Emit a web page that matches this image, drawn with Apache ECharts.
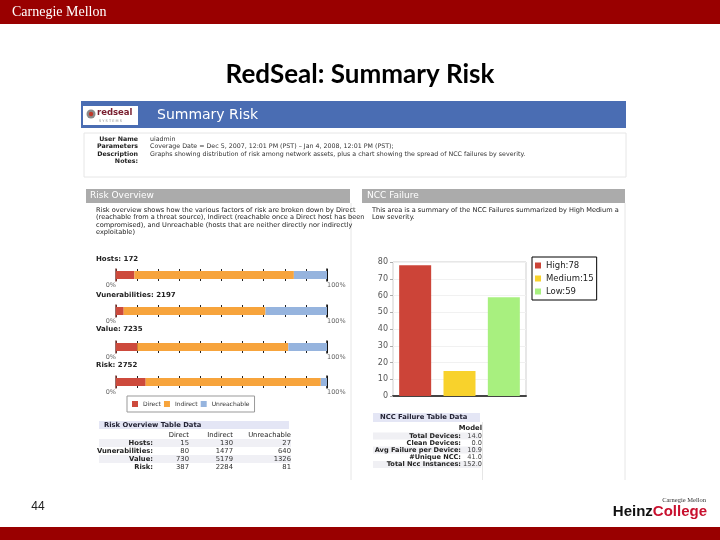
<!DOCTYPE html>
<html><head><meta charset="utf-8">
<script src="https://cdn.jsdelivr.net/npm/echarts@6/dist/echarts.min.js"></script>
<style>html,body{margin:0;padding:0;background:#fff}#c{width:720px;height:540px}</style>
</head><body><div id="c"></div>
<script>
// ---------------- data ----------------
const riskCategories = ['Hosts', 'Vunerabilities', 'Value', 'Risk'];
const riskSeriesNames = ['Direct', 'Indirect', 'Unreachable'];
const directVals = [15, 80, 730, 387];
const indirectVals = [130, 1477, 5179, 2284];
const unreachableVals = [27, 640, 1326, 81];
const riskTickLabels = ['0%', '100%'];
const nccCategories = ['High', 'Medium', 'Low'];
const nccValues = [78, 15, 59];
const nccYTicks = [0, 80, 10]; // min, max, interval
const nccTableLabels = ['Total Devices:', 'Clean Devices:', 'Avg Failure per Device:', '#Unique NCC:', 'Total Ncc Instances:'];
const nccTableValues = ['14.0', '0.0', '10.9', '41.0', '152.0'];
const riskTableCols = ['Direct', 'Indirect', 'Unreachable'];
const infoLabels = ['User Name', 'Parameters', 'Description', 'Notes:'];
const infoValues = ['uiadmin',
  'Coverage Date = Dec 5, 2007, 12:01 PM (PST) \u2013 Jan 4, 2008, 12:01 PM (PST);',
  'Graphs showing distribution of risk among network assets, plus a chart showing the spread of NCC failures by severity.',
  ''];
const riskDescLines = [
  'Risk overview shows how the various factors of risk are broken down by Direct',
  '(reachable from a threat source), Indirect (reachable once a Direct host has been',
  'compromised), and Unreachable (hosts that are neither directly nor indirectly',
  'exploitable)'];
const nccDescLines = [
  'This area is a summary of the NCC Failures summarized by High Medium a',
  'Low severity.'];

// ---------------- styles / layout ----------------
const riskColors = ['#cd4a3c', '#f7a43c', '#96b4de'];
const nccColors = ['#cc4438', '#f8d22c', '#a8f07f'];
const SF = 'DejaVu Sans';
const riskRowsY = [275, 311, 347, 382];
const riskLabelY = [259, 295, 329, 365];

const riskValues = [directVals, indirectVals, unreachableVals];
const totals = riskCategories.map((_, i) => directVals[i] + indirectVals[i] + unreachableVals[i]);

const grid = [], xAxis = [], yAxis = [], series = [];
riskRowsY.forEach((cy, i) => {
  grid.push({ left: 116, top: cy - 6, width: 211, height: 12 });
  xAxis.push({
    gridIndex: i, type: 'value', min: 0, max: 100, interval: 10,
    axisLine: { show: false }, axisTick: { show: false },
    splitLine: { show: true, lineStyle: { color: '#222', width: 1 } },
    axisLabel: {
      fontSize: 6.5, fontFamily: SF, color: '#666', margin: 1,
      showMinLabel: true, showMaxLabel: true,
      alignMinLabel: 'right', alignMaxLabel: 'left',
      formatter: v => v === 0 ? riskTickLabels[0] : (v === 100 ? riskTickLabels[1] : '')
    }
  });
  yAxis.push({
    gridIndex: i, type: 'category', data: [riskCategories[i]],
    axisLine: { show: true, onZero: false, lineStyle: { color: '#7a3a35', width: 1.5 } },
    axisTick: { show: false }, axisLabel: { show: false }, splitLine: { show: false }
  });
  yAxis.push({
    gridIndex: i, type: 'category', position: 'right', data: [riskCategories[i]],
    axisLine: { show: true, onZero: false, lineStyle: { color: '#111', width: 1.5 } },
    axisTick: { show: false }, axisLabel: { show: false }, splitLine: { show: false }
  });
  riskSeriesNames.forEach((name, j) => {
    series.push({
      type: 'bar', name, xAxisIndex: i, yAxisIndex: 2 * i, stack: 'r' + i,
      barWidth: 8, silent: true,
      itemStyle: { color: riskColors[j] },
      data: [riskValues[j][i] / totals[i] * 100]
    });
  });
});

// NCC chart
const nccGridIndex = riskRowsY.length;
grid.push({ left: 393, top: 262, width: 133, height: 134, show: true, borderColor: '#cfcfcf', borderWidth: 1, backgroundColor: '#fff' });
xAxis.push({
  gridIndex: nccGridIndex, type: 'category', data: nccCategories,
  axisLine: { show: true, lineStyle: { color: '#444', width: 2 } },
  axisTick: { show: false }, axisLabel: { show: false }
});
yAxis.push({
  gridIndex: nccGridIndex, type: 'value', min: nccYTicks[0], max: nccYTicks[1], interval: nccYTicks[2],
  axisLine: { show: false },
  axisTick: { show: true, length: 3, lineStyle: { color: '#aaa' } },
  axisLabel: { fontSize: 8, fontFamily: SF, color: '#555', margin: 5 },
  splitLine: { show: true, lineStyle: { color: '#f1f1f1' } }
});
const nccNames = nccCategories.map((c, k) => c + ':' + nccValues[k]);
nccCategories.forEach((c, k) => {
  series.push({
    type: 'bar', name: nccNames[k], xAxisIndex: nccGridIndex, yAxisIndex: yAxis.length - 1,
    barWidth: 32, barGap: '-100%', silent: true,
    itemStyle: { color: nccColors[k] },
    data: nccCategories.map((_, m) => m === k ? nccValues[k] : '-')
  });
});

// ---------------- graphics (slide + report text) ----------------
const g = [];
const txt = (x, y, text, o = {}) => g.push({
  type: 'text', x, y, silent: true,
  style: Object.assign({
    text, fill: o.fill || '#333', fontSize: o.size || 6.5, fontFamily: o.family || SF,
    fontWeight: o.bold ? 'bold' : 'normal',
    textAlign: o.align || 'left', align: o.align || 'left',
    textVerticalAlign: 'middle', verticalAlign: 'middle'
  }, o.extra || {})
});
const rect = (x, y, w, h, fill, stroke) => g.push({
  type: 'rect', silent: true, shape: { x, y, width: w, height: h },
  style: { fill: fill || 'none', stroke: stroke || 'none', lineWidth: 1 }
});
const line = (x1, y1, x2, y2, color) => g.push({
  type: 'line', silent: true, shape: { x1, y1, x2, y2 }, style: { stroke: color, lineWidth: 1 }
});

// slide frame
rect(0, 0, 720, 24, '#990000');
txt(12, 12, 'Carnegie Mellon', { fill: '#fff', size: 14, family: 'Liberation Serif' });
txt(360, 75, 'RedSeal: Summary Risk', { fill: '#000', size: 26, family: 'Lato', bold: true, align: 'center' });
rect(0, 527, 720, 13, '#990000');
txt(38, 507, '44', { fill: '#222', size: 12, family: 'Liberation Sans', align: 'center' });
txt(706, 500, 'Carnegie Mellon', { fill: '#333', size: 6.5, family: 'Liberation Serif', align: 'right' });
g.push({
  type: 'text', x: 707, y: 512, silent: true,
  style: {
    text: '{a|Heinz}{b|College}', textAlign: 'right', align: 'right', textVerticalAlign: 'middle', verticalAlign: 'middle',
    rich: {
      a: { fontSize: 15, fontWeight: 'bold', fontFamily: 'Liberation Sans', fill: '#111', color: '#111' },
      b: { fontSize: 15, fontWeight: 'bold', fontFamily: 'Liberation Sans', fill: '#c8102e', color: '#c8102e' }
    }
  }
});

// report header
rect(81, 101, 545, 27, '#4a6db3');
rect(83, 106, 55, 19, '#fff');
g.push({ type: 'circle', silent: true, shape: { cx: 91, cy: 114, r: 4.5 }, style: { fill: '#8a8a8a' } });
g.push({ type: 'circle', silent: true, shape: { cx: 91, cy: 114, r: 2.2 }, style: { fill: '#c0392b' } });
txt(97, 113, 'redseal', { fill: '#7a2030', size: 8.5, bold: true });
txt(99, 121, 'S Y S T E M S', { fill: '#888', size: 3.5 });
txt(157, 115, 'Summary Risk', { fill: '#fff', size: 14 });

// info box
rect(84, 133, 542, 44, '#fff', '#e6e6e6');
const infoY = [139, 146.5, 154, 161.5];
infoLabels.forEach((l, i) => {
  txt(138, infoY[i], l, { bold: true, align: 'right', fill: '#222', size: 6.3 });
  txt(150, infoY[i], infoValues[i], { fill: '#333', size: 6.3 });
});

// section headers
rect(86, 189, 264, 14, '#ababab');
txt(90, 196, 'Risk Overview', { fill: '#fff', size: 9 });
rect(362, 189, 263, 14, '#ababab');
txt(367, 196, 'NCC Failure', { fill: '#fff', size: 9 });
line(351, 203, 351, 480, '#e6e6e6');
line(625, 203, 625, 480, '#e6e6e6');

[210, 217.5, 225, 232.5].forEach((y, i) => txt(96, y, riskDescLines[i], { fill: '#222', size: 6.6 }));
[210, 217.5].forEach((y, i) => txt(372, y, nccDescLines[i], { fill: '#222', size: 6.6 }));

riskCategories.forEach((c, i) => txt(96, riskLabelY[i], c + ': ' + totals[i], { bold: true, size: 7, fill: '#222' }));

// risk table
rect(99, 421, 190, 8, '#e4e6f5');
txt(104, 425, 'Risk Overview Table Data', { bold: true, size: 6.8, fill: '#223' });
const colX = [189, 233, 291];
riskTableCols.forEach((c, j) => txt(colX[j], 435, c, { fill: '#222', align: 'right', size: 6.8 }));
const rowY = [443, 451, 459, 467];
riskCategories.forEach((c, i) => {
  if (i % 2 === 0) rect(99, rowY[i] - 4, 192, 8, '#f0f0f5');
});
riskCategories.forEach((c, i) => {
  txt(153, rowY[i], c + ':', { bold: true, align: 'right', fill: '#222', size: 6.8 });
  riskValues.forEach((arr, j) => txt(colX[j], rowY[i], String(arr[i]), { align: 'right', fill: '#333', size: 6.8 }));
});

// ncc table
rect(373, 413, 107, 9, '#e4e6f5');
txt(380, 417.5, 'NCC Failure Table Data', { bold: true, size: 6.8, fill: '#223' });
txt(482, 428, 'Model', { bold: true, align: 'right', fill: '#222', size: 6.8 });
const nRowY = [436, 443, 450, 457, 464.5];
nccTableLabels.forEach((l, i) => { if (i % 2 === 0) rect(373, nRowY[i] - 3.5, 108, 7, '#f0f0f4'); });
nccTableLabels.forEach((l, i) => {
  txt(461, nRowY[i], l, { bold: true, align: 'right', fill: '#222', size: 6.6 });
  txt(482, nRowY[i], nccTableValues[i], { align: 'right', fill: '#444', size: 6.6 });
});
line(482.5, 422, 482.5, 480, '#e6e6e6');

const option = {
  animation: false,
  backgroundColor: '#fff',
  grid, xAxis, yAxis, series,
  legend: [
    {
      data: riskSeriesNames, left: 127, top: 396, orient: 'horizontal', icon: 'rect',
      borderColor: '#999', borderWidth: 1, padding: [5, 5], itemGap: 3, itemWidth: 6, itemHeight: 6,
      selectedMode: false, textStyle: { fontSize: 6, fontFamily: SF, color: '#333' }
    },
    {
      data: nccNames, left: 532, top: 257, orient: 'vertical', icon: 'rect',
      borderColor: '#000', borderWidth: 1, padding: [4, 3, 4, 3], itemGap: 4, itemWidth: 6, itemHeight: 6,
      selectedMode: false, textStyle: { fontSize: 8.5, fontFamily: SF, color: '#222' }
    }
  ],
  graphic: { elements: g }
};
const chart = echarts.init(document.getElementById('c'), null, { renderer: 'canvas' });
chart.setOption(option);
</script></body></html>
